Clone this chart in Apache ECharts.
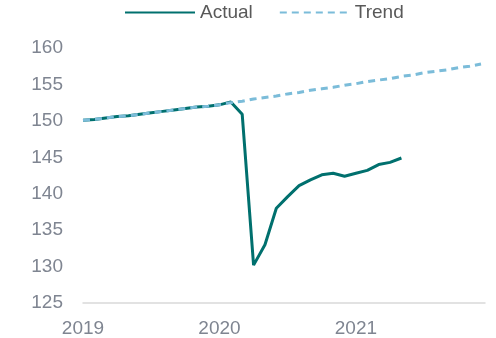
<!DOCTYPE html>
<html>
<head>
<meta charset="utf-8">
<script src="https://cdn.jsdelivr.net/npm/echarts@6/dist/echarts.min.js"></script>
<style>html,body{margin:0;padding:0;background:#fff}#c{width:496px;height:338px}</style>
</head>
<body>
<div id="c"></div>
<script>
// Months Jan 2019 .. Dec 2021
const months = ['2019-01','2019-02','2019-03','2019-04','2019-05','2019-06','2019-07','2019-08','2019-09','2019-10','2019-11','2019-12',
  '2020-01','2020-02','2020-03','2020-04','2020-05','2020-06','2020-07','2020-08','2020-09','2020-10','2020-11','2020-12',
  '2021-01','2021-02','2021-03','2021-04','2021-05','2021-06','2021-07','2021-08','2021-09','2021-10','2021-11','2021-12'];
const actual = [150.1,150.2,150.4,150.6,150.7,150.9,151.1,151.3,151.5,151.7,151.9,152.0,
  152.2,152.6,150.9,130.2,133.0,138.0,139.6,141.1,141.9,142.6,142.8,142.4,
  142.8,143.2,144.0,144.3,144.9];
const trend = [150.1,150.2,150.4,150.6,150.7,150.9,151.1,151.3,151.5,151.7,151.9,152.0,
  152.2,152.5,152.7,153.0,153.2,153.4,153.7,153.9,154.2,154.4,154.6,154.9,
  155.1,155.4,155.6,155.8,156.1,156.3,156.6,156.8,157.0,157.3,157.5,157.8];
const yearLabels = ['2019','2020','2021'];

const chart = echarts.init(document.getElementById('c'), null, {renderer:'canvas'});
const font = 'Liberation Sans, Arial, sans-serif';
chart.setOption({
  animation:false,
  textStyle:{fontFamily:font},
  legend:{
    left:119, top:-2, itemWidth:70, itemHeight:20, itemGap:26,
    itemStyle:{opacity:0},
    textStyle:{fontSize:19, color:'#595959', fontFamily:font},
    data:['Actual','Trend']
  },
  grid:{left:83, right:11, top:48, bottom:33, containLabel:false},
  xAxis:{
    type:'value', min:0, max:35.35, interval:12,
    axisLine:{show:true, lineStyle:{color:'#d9d9d9', width:1.5}},
    axisTick:{show:false}, splitLine:{show:false},
    axisLabel:{fontSize:19, color:'#7f8591', margin:16, showMaxLabel:false,
      formatter:v=>{const i=Math.round(v/12);return (v%12===0 && yearLabels[i])?yearLabels[i]:'';}}
  },
  yAxis:{
    type:'value', min:125, max:160, interval:5,
    axisLine:{show:false}, axisTick:{show:false}, splitLine:{show:false},
    axisLabel:{fontSize:19, color:'#7f8591', margin:20}
  },
  series:[
    {name:'Actual', type:'line', symbol:'none', lineStyle:{color:'#00706e', width:3}, itemStyle:{color:'#00706e'},
      data:actual.map((v,i)=>[i,v])},
    {name:'Trend', type:'line', symbol:'none', lineStyle:{color:'#7bbcd9', width:3, type:[7,5]}, itemStyle:{color:'#7bbcd9'},
      data:trend.map((v,i)=>[i,v])}
  ]
});
</script>
</body>
</html>
